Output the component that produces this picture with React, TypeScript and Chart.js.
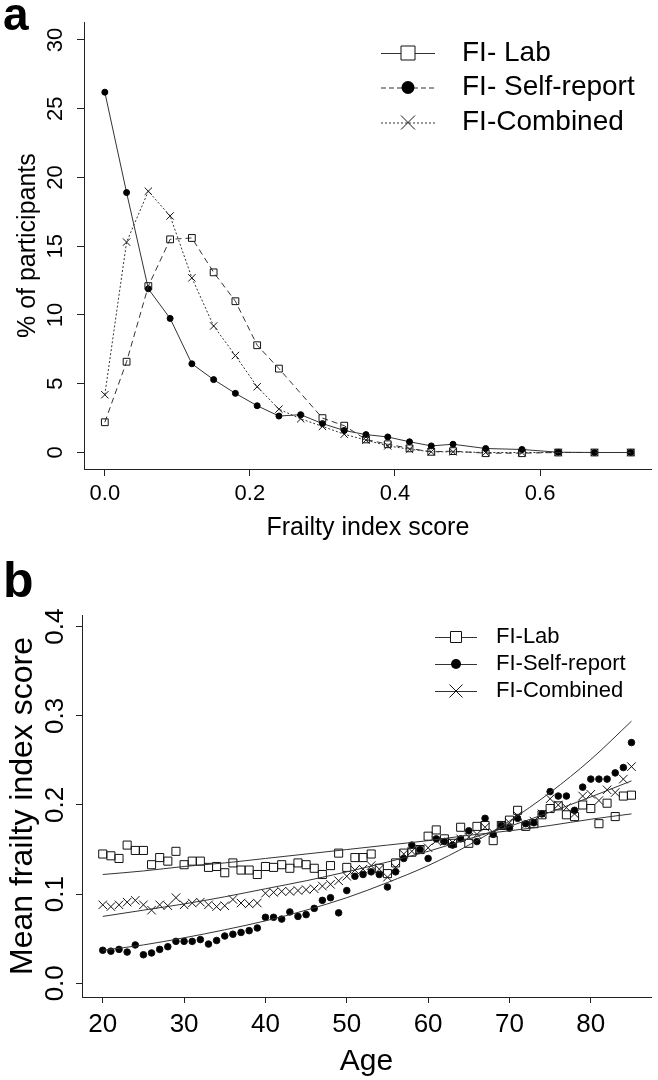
import React, { useEffect, useRef } from 'react';
import { Chart, registerables } from 'chart.js';

Chart.register(...registerables);

const FONT = "'Liberation Sans', Arial, Helvetica, sans-serif";

// ---------- Panel a: distribution of FI scores ----------
const fiScores = [0, 0.03, 0.06, 0.09, 0.12, 0.15, 0.18, 0.21, 0.24, 0.27, 0.3, 0.33, 0.36, 0.39, 0.42, 0.45, 0.48, 0.525, 0.575, 0.625, 0.675, 0.725];
const labPct = [2.2, 6.6, 12.1, 15.5, 15.6, 13.1, 11.0, 7.8, 6.1, null, 2.5, 1.95, 0.95, 0.6, 0.3, 0.05, 0.1, -0.05, -0.05, 0.0, 0.0, 0.0];
const selfPct = [26.2, 18.9, 11.9, 9.75, 6.45, 5.3, 4.3, 3.4, 2.65, 2.75, 2.1, 1.6, 1.3, 1.13, 0.78, 0.48, 0.6, 0.29, 0.22, 0.02, 0.0, 0.0];
const combinedPct = [4.2, 15.3, 19.0, 17.2, 12.7, 9.2, 7.05, 4.78, 3.15, 2.45, 1.9, 1.33, 0.9, 0.48, 0.24, 0.05, 0.05, 0.0, 0.0, 0.0, 0.0, 0.0];
const xTicksA = [0, 0.2, 0.4, 0.6];
const yTicksA = [0, 5, 10, 15, 20, 25, 30];
const legendA = ['FI- Lab', 'FI- Self-report', 'FI-Combined'];

// ---------- Panel b: mean FI by age ----------
const ages = [20, 21, 22, 23, 24, 25, 26, 27, 28, 29, 30, 31, 32, 33, 34, 35, 36, 37, 38, 39, 40, 41, 42, 43, 44, 45, 46, 47, 48, 49, 50, 51, 52, 53, 54, 55, 56, 57, 58, 59, 60, 61, 62, 63, 64, 65, 66, 67, 68, 69, 70, 71, 72, 73, 74, 75, 76, 77, 78, 79, 80, 81, 82, 83, 84, 85];
const labMean = [0.145, 0.143, 0.140, 0.155, 0.149, 0.149, 0.133, 0.141, 0.137, 0.148, 0.133, 0.137, 0.137, 0.130, 0.131, 0.124, 0.135, 0.127, 0.127, 0.122, 0.131, 0.130, 0.133, 0.129, 0.135, 0.133, 0.129, 0.122, 0.132, 0.146, 0.130, 0.141, 0.141, 0.145, 0.129, 0.123, 0.135, 0.146, 0.147, 0.150, 0.165, 0.172, 0.162, 0.157, 0.175, 0.157, 0.176, 0.177, 0.160, 0.177, 0.183, 0.194, 0.176, 0.179, 0.189, 0.196, 0.199, 0.189, 0.187, 0.200, 0.196, 0.179, 0.202, 0.187, 0.210, 0.211];
const selfMean = [0.037, 0.036, 0.038, 0.035, 0.043, 0.032, 0.034, 0.038, 0.041, 0.047, 0.047, 0.047, 0.049, 0.044, 0.048, 0.053, 0.055, 0.057, 0.059, 0.062, 0.074, 0.074, 0.072, 0.080, 0.075, 0.077, 0.084, 0.093, 0.096, 0.079, 0.104, 0.120, 0.122, 0.125, 0.122, 0.108, 0.125, 0.140, 0.155, 0.150, 0.140, 0.162, 0.159, 0.155, 0.162, 0.171, 0.159, 0.185, 0.167, 0.177, 0.174, 0.185, 0.179, 0.180, 0.190, 0.215, 0.210, 0.210, 0.194, 0.220, 0.229, 0.229, 0.229, 0.236, 0.242, 0.270];
const combinedMean = [0.088, 0.086, 0.088, 0.091, 0.093, 0.088, 0.082, 0.088, 0.087, 0.096, 0.088, 0.090, 0.091, 0.088, 0.086, 0.087, 0.094, 0.090, 0.089, 0.090, 0.101, 0.102, 0.103, 0.103, 0.104, 0.105, 0.106, 0.109, 0.111, 0.115, 0.120, 0.127, 0.128, 0.132, 0.128, 0.119, 0.130, 0.145, 0.148, 0.150, 0.152, 0.160, 0.159, 0.158, 0.162, 0.164, 0.167, 0.175, 0.169, 0.177, 0.180, 0.188, 0.178, 0.182, 0.190, 0.207, 0.200, 0.197, 0.190, 0.210, 0.212, 0.205, 0.217, 0.214, 0.229, 0.243];
const fitAges = [20, 25, 30, 35, 40, 45, 50, 55, 60, 65, 70, 75, 80, 85];
const labFit = [0.122, 0.126, 0.131, 0.135, 0.140, 0.145, 0.150, 0.155, 0.160, 0.166, 0.171, 0.177, 0.184, 0.190];
const selfFit = [0.037, 0.043, 0.051, 0.060, 0.070, 0.082, 0.096, 0.113, 0.132, 0.155, 0.182, 0.214, 0.251, 0.294];
const combinedFit = [0.075, 0.082, 0.089, 0.097, 0.106, 0.115, 0.125, 0.136, 0.148, 0.162, 0.176, 0.192, 0.209, 0.227];
const xTicksB = [20, 30, 40, 50, 60, 70, 80];
const yTicksB = [0, 0.1, 0.2, 0.3, 0.4];
const legendB = ['FI-Lab', 'FI-Self-report', 'FI-Combined'];

type Kind = 'square' | 'circle' | 'cross';

function drawMarker(ctx: CanvasRenderingContext2D, kind: Kind, x: number, y: number, size: number) {
  ctx.save();
  ctx.setLineDash([]);
  ctx.strokeStyle = '#111';
  ctx.fillStyle = '#000';
  ctx.lineWidth = 1;
  ctx.beginPath();
  if (kind === 'square') {
    ctx.fillStyle = '#fff';
    ctx.rect(x - size / 2, y - size / 2, size, size);
    ctx.fill();
    ctx.stroke();
  } else if (kind === 'circle') {
    ctx.arc(x, y, size / 2, 0, Math.PI * 2);
    ctx.fill();
  } else {
    const h = size / 2;
    ctx.moveTo(x - h, y - h);
    ctx.lineTo(x + h, y + h);
    ctx.moveTo(x + h, y - h);
    ctx.lineTo(x - h, y + h);
    ctx.stroke();
  }
  ctx.restore();
}

interface LegendSpec {
  letter: string;
  letterX: number;
  letterY: number;
  letterSize: number;
  rows: number[];
  lineX0: number;
  lineX1: number;
  textX: number;
  fontSize: number;
  labels: string[];
  kinds: Kind[];
  sizes: number[];
  dashes: number[][];
}

function overlayPlugin(id: string, spec: LegendSpec) {
  return {
    id,
    afterDraw(chart: any) {
      const ctx: CanvasRenderingContext2D = chart.ctx;
      ctx.save();
      ctx.fillStyle = '#000';
      ctx.font = `bold ${spec.letterSize}px ${FONT}`;
      ctx.textBaseline = 'alphabetic';
      ctx.textAlign = 'left';
      ctx.fillText(spec.letter, spec.letterX, spec.letterY);
      spec.labels.forEach((label, i) => {
        const y = spec.rows[i];
        ctx.save();
        ctx.strokeStyle = '#333';
        ctx.lineWidth = 1;
        ctx.setLineDash(spec.dashes[i]);
        ctx.beginPath();
        ctx.moveTo(spec.lineX0, y + 0.5);
        ctx.lineTo(spec.lineX1, y + 0.5);
        ctx.stroke();
        ctx.restore();
        drawMarker(ctx, spec.kinds[i], (spec.lineX0 + spec.lineX1) / 2, y, spec.sizes[i]);
        ctx.fillStyle = '#000';
        ctx.font = `${spec.fontSize}px ${FONT}`;
        ctx.textBaseline = 'middle';
        ctx.fillText(label, spec.textX, y);
      });
      ctx.restore();
    },
  };
}

const axisCommon = (tickLen: number) => ({
  grid: { display: true, drawOnChartArea: false, drawTicks: true, tickLength: tickLen, color: '#222', lineWidth: 1 },
  border: { display: true, color: '#222', width: 1 },
});

export default function App() {
  const refA = useRef<HTMLCanvasElement>(null);
  const refB = useRef<HTMLCanvasElement>(null);

  useEffect(() => {
    const lineCol = '#333';
    const chartA = new Chart(refA.current as HTMLCanvasElement, {
      type: 'line',
      data: {
        datasets: [
          {
            label: legendA[0],
            data: fiScores.map((x, i) => ({ x, y: labPct[i] })).filter((p) => p.y !== null) as any,
            borderColor: lineCol, borderWidth: 1, borderDash: [6, 4],
            pointStyle: 'rect', pointRadius: 4.8, pointBorderColor: '#111', pointBackgroundColor: 'rgba(255,255,255,0)', pointBorderWidth: 1,
            fill: false, tension: 0,
          },
          {
            label: legendA[1],
            data: fiScores.map((x, i) => ({ x, y: selfPct[i] })) as any,
            borderColor: lineCol, borderWidth: 1,
            pointStyle: 'circle', pointRadius: 3, pointBorderColor: '#000', pointBackgroundColor: '#000', pointBorderWidth: 1,
            fill: false, tension: 0,
          },
          {
            label: legendA[2],
            data: fiScores.map((x, i) => ({ x, y: combinedPct[i] })) as any,
            borderColor: lineCol, borderWidth: 1, borderDash: [2, 2],
            pointStyle: 'crossRot', pointRadius: 5.2, pointBorderColor: '#111', pointBorderWidth: 1,
            fill: false, tension: 0,
          },
        ],
      },
      options: {
        responsive: false,
        animation: false,
        events: [],
        layout: { padding: { left: 0, right: 3, top: 17, bottom: 0 } },
        plugins: { legend: { display: false }, tooltip: { enabled: false } },
        scales: {
          x: {
            type: 'linear', min: -0.0287, max: 0.754,
            afterBuildTicks: (s: any) => { s.ticks = xTicksA.map((v) => ({ value: v })); },
            afterFit: (s: any) => { s.height = 76; },
            ticks: { callback: (v: any) => Number(v).toFixed(1), font: { family: FONT, size: 22 }, color: '#000', padding: 5, maxRotation: 0, autoSkip: false },
            title: { display: true, text: 'Frailty index score', font: { family: FONT, size: 25 }, color: '#000', padding: { top: 0, bottom: 2 } },
            ...axisCommon(7),
          } as any,
          y: {
            type: 'linear', min: -1.2, max: 31.29,
            afterBuildTicks: (s: any) => { s.ticks = yTicksA.map((v) => ({ value: v })); },
            afterFit: (s: any) => { s.width = 84; },
            ticks: { callback: (v: any) => String(v), font: { family: FONT, size: 22 }, color: '#000', padding: 9, minRotation: 90, maxRotation: 90, crossAlign: 'center', autoSkip: false },
            title: { display: true, text: '% of participants', font: { family: FONT, size: 25 }, color: '#000', padding: { top: 13, bottom: 0 } },
            ...axisCommon(7),
          } as any,
        },
      },
      plugins: [overlayPlugin('overlayA', {
        letter: 'a', letterX: 3, letterY: 30, letterSize: 46,
        rows: [53, 87.5, 122.5], lineX0: 381, lineX1: 435, textX: 462, fontSize: 28,
        labels: legendA, kinds: ['square', 'circle', 'cross'], sizes: [14, 13, 14],
        dashes: [[], [5, 3], [2, 2]],
      })],
    });

    const scatterDs = (label: string, vals: number[], style: string, r: number, filled: boolean) => ({
      type: 'scatter' as const,
      label,
      data: ages.map((a, i) => ({ x: a, y: vals[i] })),
      showLine: false,
      pointStyle: style,
      pointRadius: r,
      pointBorderColor: '#111',
      pointBackgroundColor: filled ? '#000' : 'rgba(255,255,255,0)',
      pointBorderWidth: 1,
    });
    const fitDs = (label: string, vals: number[]) => ({
      type: 'line' as const,
      label,
      data: fitAges.map((a, i) => ({ x: a, y: vals[i] })),
      showLine: true,
      borderColor: '#333',
      borderWidth: 1,
      pointRadius: 0,
      fill: false,
      cubicInterpolationMode: 'monotone' as const,
    });

    const chartB = new Chart(refB.current as HTMLCanvasElement, {
      type: 'scatter',
      data: {
        datasets: [
          fitDs('Lab fit', labFit),
          fitDs('Self-report fit', selfFit),
          fitDs('Combined fit', combinedFit),
          scatterDs(legendB[0], labMean, 'rect', 5.7, false),
          scatterDs(legendB[1], selfMean, 'circle', 3.3, true),
          scatterDs(legendB[2], combinedMean, 'crossRot', 6, false),
        ] as any,
      },
      options: {
        responsive: false,
        animation: false,
        events: [],
        layout: { padding: { left: 0, right: 6, top: 70, bottom: 0 } },
        plugins: { legend: { display: false }, tooltip: { enabled: false } },
        scales: {
          x: {
            type: 'linear', min: 17.45, max: 87.4,
            afterBuildTicks: (s: any) => { s.ticks = xTicksB.map((v) => ({ value: v })); },
            afterFit: (s: any) => { s.height = 83; },
            ticks: { callback: (v: any) => String(v), font: { family: FONT, size: 26 }, color: '#000', padding: 6, maxRotation: 0, autoSkip: false },
            title: { display: true, text: 'Age', font: { family: FONT, size: 30 }, color: '#000', padding: { top: 0, bottom: 0 } },
            ...axisCommon(6),
          } as any,
          y: {
            type: 'linear', min: -0.0154, max: 0.4131,
            afterBuildTicks: (s: any) => { s.ticks = yTicksB.map((v) => ({ value: v })); },
            afterFit: (s: any) => { s.width = 82; },
            ticks: { callback: (v: any) => Number(v).toFixed(1), font: { family: FONT, size: 26 }, color: '#000', padding: 2, minRotation: 90, maxRotation: 90, crossAlign: 'center', autoSkip: false },
            title: { display: true, text: 'Mean frailty index score', font: { family: FONT, size: 32 }, color: '#000', padding: { top: 4, bottom: 0 } },
            ...axisCommon(6),
          } as any,
        },
      },
      plugins: [overlayPlugin('overlayB', {
        letter: 'b', letterX: 3, letterY: 52, letterSize: 50,
        rows: [92, 119, 146], lineX0: 435, lineX1: 477, textX: 496, fontSize: 22,
        labels: legendB, kinds: ['square', 'circle', 'cross'], sizes: [11, 10, 13],
        dashes: [[], [], []],
      })],
    });

    return () => {
      chartA.destroy();
      chartB.destroy();
    };
  }, []);

  return (
    <div style={{ position: 'absolute', left: 0, top: 0, width: 658, height: 1080, background: '#fff' }}>
      <canvas ref={refA} width={658} height={545} style={{ position: 'absolute', left: 0, top: 0 }} />
      <canvas ref={refB} width={658} height={535} style={{ position: 'absolute', left: 0, top: 545 }} />
    </div>
  );
}
